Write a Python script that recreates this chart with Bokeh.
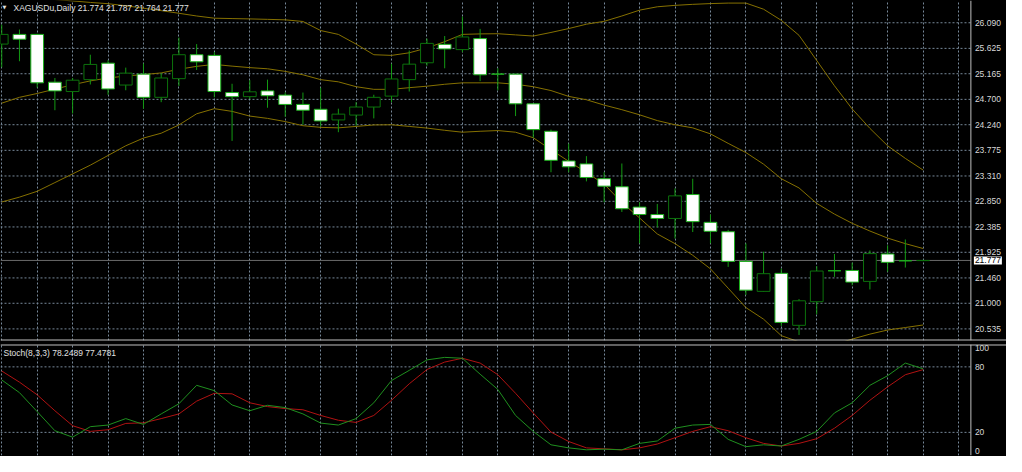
from bokeh.plotting import figure
from bokeh.layouts import column
from bokeh.models import Range1d, FixedTicker, Grid, Label, Span, ColumnDataSource
from bokeh.core.properties import value
from bokeh.embed import file_html
from bokeh.resources import INLINE

symbol = "XAGUSDu,Daily"
stoch_name = "Stoch(8,3,3)"

# ---- daily candles (bar index 0..52) ----
open_ = [25.703, 25.879, 25.879, 25.012, 24.842, 25.058, 25.357, 24.960, 25.158, 24.737,
         25.076, 25.510, 25.498, 24.824, 24.749, 24.854, 24.777, 24.608, 24.520, 24.327,
         24.415, 24.561, 24.759, 25.058, 25.364, 25.698, 25.603, 25.803, 25.158, 25.158,
         24.619, 24.121, 23.582, 23.529, 23.260, 23.114, 22.745, 22.610, 22.539, 22.973,
         22.469, 22.298, 21.760, 21.216, 21.543, 20.600, 21.028, 21.590, 21.595, 21.397,
         21.894, 21.771, 21.774]
high = [26.055, 25.967, 25.890, 25.088, 25.088, 25.510, 25.410, 25.276, 25.352, 25.176,
        25.821, 25.703, 25.557, 24.983, 25.048, 25.058, 24.824, 24.824, 24.912, 24.531,
        24.649, 24.784, 25.346, 25.586, 25.803, 25.849, 26.201, 25.979, 25.264, 25.165,
        24.625, 24.151, 23.898, 23.670, 23.378, 23.536, 22.833, 22.803, 23.084, 23.260,
        22.610, 22.333, 22.087, 21.936, 21.630, 21.075, 21.673, 21.894, 21.736, 21.959,
        22.052, 22.158, 21.787]
low = [25.281, 25.392, 24.912, 24.503, 24.443, 24.970, 24.784, 24.865, 24.531, 24.649,
       24.942, 25.234, 24.737, 23.946, 24.707, 24.548, 24.385, 24.239, 24.209, 24.104,
       24.221, 24.355, 24.649, 24.842, 25.311, 25.264, 25.557, 25.030, 24.865, 24.397,
       24.004, 23.378, 23.378, 23.212, 22.833, 22.657, 22.087, 22.376, 22.175, 22.293,
       22.087, 21.660, 21.151, 21.210, 20.588, 20.425, 20.799, 21.479, 21.326, 21.251,
       21.573, 21.648, 21.764]
close = [25.879, 25.791, 25.000, 24.854, 25.048, 25.334, 24.889, 25.176, 24.737, 25.088,
         25.510, 25.382, 24.842, 24.749, 24.837, 24.766, 24.608, 24.503, 24.309, 24.432,
         24.561, 24.737, 25.070, 25.339, 25.716, 25.615, 25.832, 25.146, 25.158, 24.619,
         24.151, 23.594, 23.476, 23.283, 23.125, 22.715, 22.610, 22.539, 22.949, 22.481,
         22.306, 21.760, 21.238, 21.537, 20.653, 21.045, 21.585, 21.590, 21.384, 21.901,
         21.743, 21.771, 21.777]

# ---- Bollinger bands ----
bb_upper = [26.635, 26.582, 26.547, 26.512, 26.486, 26.459, 26.436, 26.398, 26.354, 26.310,
            26.262, 26.213, 26.173, 26.166, 26.160, 26.152, 26.143, 26.113, 25.949, 25.879,
            25.703, 25.510, 25.498, 25.545, 25.633, 25.747, 25.879, 25.888, 25.891, 25.870,
            25.849, 25.914, 25.985, 26.064, 26.116, 26.213, 26.319, 26.380, 26.406, 26.424,
            26.438, 26.447, 26.447, 26.336, 26.134, 25.862, 25.405, 24.947, 24.526, 24.174,
            23.858, 23.629, 23.418]
bb_middle = [24.631, 24.737, 24.807, 24.886, 24.965, 25.035, 25.088, 25.123, 25.150, 25.180,
             25.246, 25.299, 25.334, 25.303, 25.276, 25.255, 25.208, 25.146, 25.058, 25.018,
             24.930, 24.882, 24.882, 24.912, 24.939, 24.974, 25.000, 25.000, 25.000, 24.974,
             24.930, 24.860, 24.754, 24.693, 24.596, 24.513, 24.420, 24.315, 24.239, 24.183,
             24.074, 23.902, 23.735, 23.524, 23.260, 23.093, 22.812, 22.618, 22.451, 22.311,
             22.183, 22.082, 21.994]
bb_lower = [22.838, 22.926, 23.032, 23.190, 23.348, 23.506, 23.682, 23.858, 23.998, 24.086,
            24.236, 24.438, 24.531, 24.482, 24.397, 24.355, 24.297, 24.222, 24.192, 24.183,
            24.209, 24.236, 24.239, 24.209, 24.179, 24.139, 24.104, 24.121, 24.134, 24.104,
            24.004, 23.787, 23.576, 23.374, 23.163, 22.829, 22.548, 22.258, 22.082, 21.871,
            21.625, 21.274, 20.922, 20.711, 20.412, 20.300, 20.200, 20.250, 20.350, 20.440,
            20.515, 20.560, 20.606]

# ---- Stochastic (8,3,3) ----
stoch_main = [68.0, 56.4, 39.0, 21.5, 15.6, 25.2, 26.7, 32.6, 27.3, 36.9,
              46.2, 63.1, 58.2, 45.1, 39.8, 44.8, 42.7, 36.9, 28.5, 26.7,
              32.6, 47.1, 67.5, 76.8, 86.4, 88.7, 87.9, 73.3, 59.3, 35.5,
              20.9, 8.6, 5.8, 4.0, 4.6, 4.0, 9.9, 12.1, 23.8, 26.7,
              27.3, 13.6, 6.9, 8.6, 7.5, 13.6, 20.9, 37.8, 47.1, 63.1,
              71.9, 83.5, 78.2489]
stoch_signal = [76.2, 66.0, 54.4, 39.8, 26.1, 20.9, 22.4, 28.2, 28.7, 32.6,
                36.9, 48.6, 55.8, 55.3, 47.1, 43.6, 41.8, 40.7, 35.5, 31.1,
                29.1, 35.5, 49.4, 64.5, 77.6, 84.4, 87.9, 83.5, 72.8, 55.8,
                37.8, 20.3, 11.6, 5.8, 4.9, 4.0, 5.8, 9.3, 15.1, 20.9,
                25.2, 21.5, 15.1, 9.9, 7.5, 9.9, 14.2, 23.8, 35.5, 49.4,
                61.7, 72.8, 77.4781]

price_ticks = [20.535, 21.000, 21.460, 21.925, 22.385, 22.850, 23.310,
               23.775, 24.240, 24.700, 25.165, 25.625, 26.090]
stoch_levels = [20, 80]
stoch_min, stoch_max = 0, 100

# ---- styling ----
BG = "black"
GRID = "#778899"
FRAME = "#c0c0c0"
AXTXT = "#d8d8d8"
FONT = "Liberation Sans"
FS = "8.5px"
WICK = "#139a13"
BEAR_LINE = "#1cb01c"
BULL_LINE = "#0c720c"
BAND = "#857000"

n = len(open_)
idx = list(range(n))
AXIS_X = 54.7                      # bar position of the price-scale line
xr = Range1d(-0.07, 56.71)
yr = Range1d(20.3245, 26.494)
even_ticks = list(range(0, 56, 2))

bull = [c > o for o, c in zip(open_, close)]
src = ColumnDataSource(dict(
    x=idx, open=open_, high=high, low=low, close=close,
    top=[max(o, c) for o, c in zip(open_, close)],
    bottom=[min(o, c) for o, c in zip(open_, close)],
    fill=["black" if b else "white" for b in bull],
    line=[BULL_LINE if b else BEAR_LINE for b in bull],
    up=bb_upper, mid=bb_middle, lo=bb_lower,
))


def base_fig(height, yrange, top, bottom, hticks):
    f = figure(width=1006, height=height, x_range=xr, y_range=yrange,
               output_backend="svg", toolbar_location=None,
               x_axis_location=None, y_axis_location=None,
               min_border_left=0, min_border_right=0,
               min_border_top=top, min_border_bottom=bottom,
               background_fill_color=BG, border_fill_color=BG,
               outline_line_color=None)
    for g in list(f.grid):
        g.visible = False
    f.add_layout(Grid(dimension=0, ticker=FixedTicker(ticks=even_ticks),
                      grid_line_color=GRID, grid_line_dash="2 2"))
    # horizontal grid, stopped at the price scale line
    f.segment(x0=[xr.start] * len(hticks), y0=hticks,
              x1=[AXIS_X] * len(hticks), y1=hticks,
              line_color=GRID, line_dash="2 2", line_width=1)
    f.add_layout(Span(location=AXIS_X, dimension="height", line_color=FRAME, line_width=1))
    return f


def axis_text(f, ys, labels, baseline):
    f.text(x=[AXIS_X] * len(ys), y=ys, text=labels, x_offset=4,
           text_align="left", text_baseline=baseline,
           text_font=value(FONT), text_font_size=FS, text_color=AXTXT)


# ---------------- main price panel ----------------
p = base_fig(342, yr, 0, 2, price_ticks)
p.add_layout(Span(location=yr.start, dimension="width", line_color=FRAME, line_width=2))

for col in ("up", "mid", "lo"):
    p.line("x", col, source=src, line_color=BAND, line_width=1)

# current price line
p.segment(x0=[xr.start], y0=[close[-1]], x1=[AXIS_X], y1=[close[-1]],
          line_color="#6a6a6a", line_width=1)

# candles
p.segment(x0="x", y0="low", x1="x", y1="high", source=src, line_color=WICK, line_width=1)
p.vbar(x="x", width=0.72, top="top", bottom="bottom", source=src,
       fill_color="fill", line_color="line", line_width=1)

axis_text(p, price_ticks, [f"{v:.3f}" for v in price_ticks], "middle")
# current price box on the scale
p.text(x=[AXIS_X], y=[close[-1]], text=[f"{close[-1]:.3f}"], x_offset=3,
       text_align="left", text_baseline="middle",
       text_font=value(FONT), text_font_size=FS, text_color="black",
       background_fill_color="white", padding=1)

p.add_layout(Label(x=xr.start, y=yr.end, x_offset=2, y_offset=-3, text="\u25bc",
                   text_font="DejaVu Sans", text_font_size="5px", text_color="#e0e0e0",
                   text_baseline="top"))
p.add_layout(Label(x=xr.start, y=yr.end, x_offset=13, y_offset=-2,
                   text=f"{symbol}  {open_[-1]:.3f} {high[-1]:.3f} {low[-1]:.3f} {close[-1]:.3f}",
                   text_font=FONT, text_font_size=FS, text_color="#e0e0e0",
                   text_baseline="top"))

# ---------------- stochastic panel ----------------
sr = Range1d(-1.2, 100.5)
s = base_fig(114, sr, 2, 1, stoch_levels)
s.add_layout(Span(location=sr.end, dimension="width", line_color=FRAME, line_width=2))

ssrc = ColumnDataSource(dict(x=idx, k=stoch_main, d=stoch_signal))
s.line("x", "d", source=ssrc, line_color="#b01212", line_width=1)
s.line("x", "k", source=ssrc, line_color="#1f8f1f", line_width=1)

axis_text(s, [stoch_max], [str(stoch_max)], "top")
axis_text(s, stoch_levels, [str(v) for v in stoch_levels], "middle")
axis_text(s, [stoch_min], [str(stoch_min)], "bottom")

s.add_layout(Label(x=xr.start, y=sr.end, x_offset=3, y_offset=-3,
                   text=f"{stoch_name} {stoch_main[-1]:.4f} {stoch_signal[-1]:.4f}",
                   text_font=FONT, text_font_size=FS, text_color="#e0e0e0",
                   text_baseline="top"))

layout = column(p, s, spacing=0, background="black")
open("out.html", "w").write(file_html(layout, INLINE))
